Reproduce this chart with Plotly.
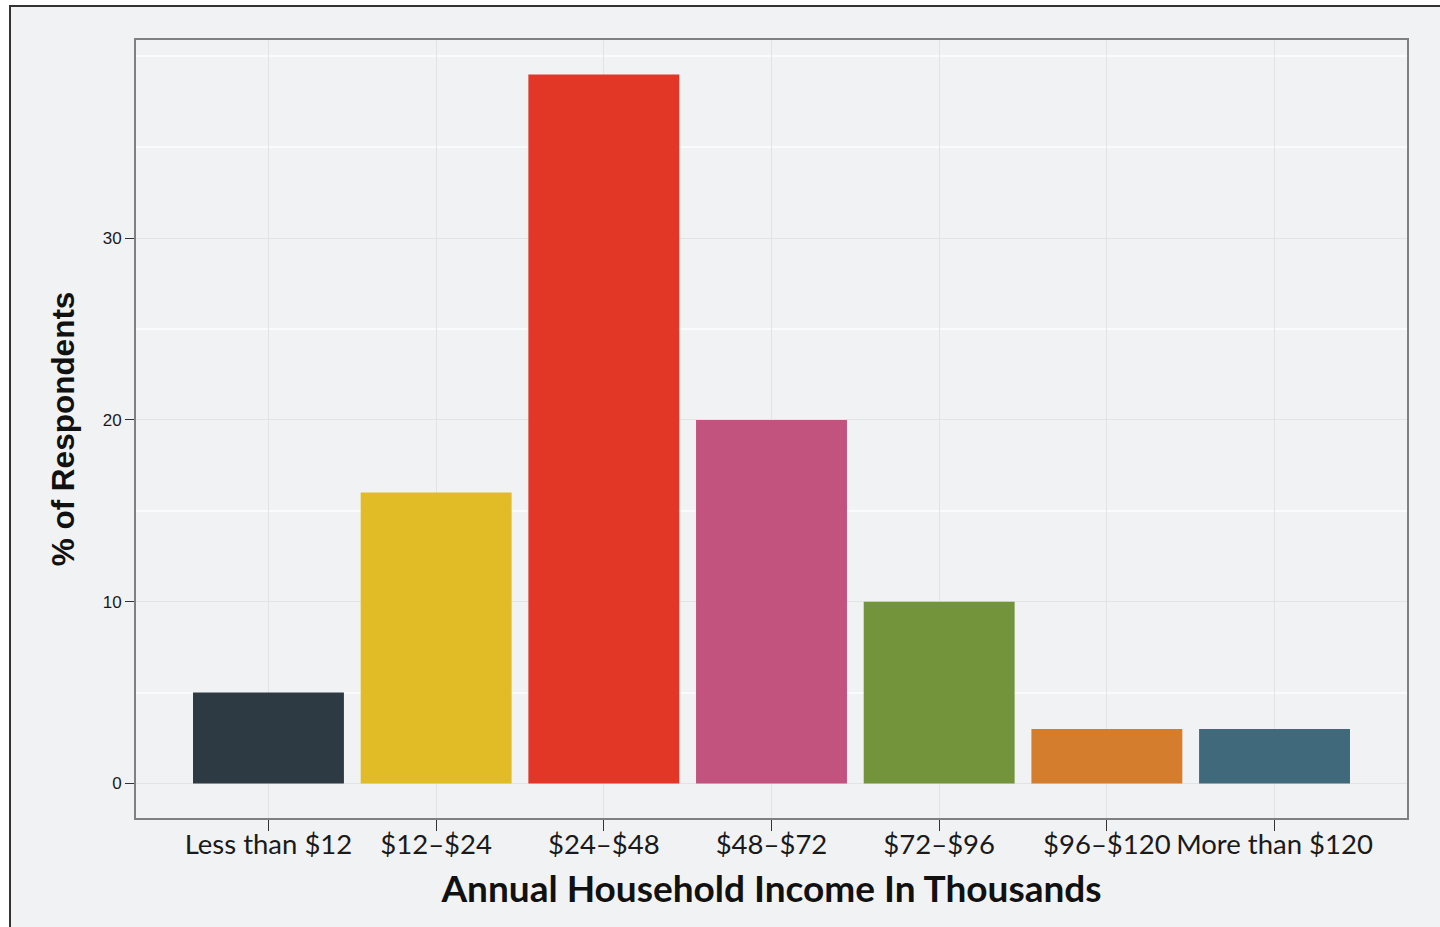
import plotly.graph_objects as go

categories = ["Less than $12", "$12\u2013$24", "$24\u2013$48", "$48\u2013$72",
              "$72\u2013$96", "$96\u2013$120", "More than $120"]
values = [5, 16, 39, 20, 10, 3, 3]
colors = ["#2d3a43", "#e1bc26", "#e23726", "#c2527e", "#73943b", "#d47d2d", "#41697c"]
y_major = [0, 10, 20, 30]
y_minor = [5, 15, 25, 35, 40]

W, H = 1440, 927
# target plot area in page pixels
PL, PR, PT, PB = 136, 1407, 40, 818
L, T, R, B = PL, PT, W - PR, H - PB
pw, ph = PR - PL, PB - PT

fig = go.Figure(go.Bar(x=categories, y=values, marker=dict(color=colors, line=dict(width=0)),
                       width=0.9))

bg = "#f1f2f4"
def px_x(p):
    return (p - PL) / pw
def px_y(p):
    return (PB - p) / ph

fig.add_shape(type="rect", xref="paper", yref="paper",
              x0=px_x(10), x1=px_x(1470), y0=px_y(6), y1=px_y(960),
              fillcolor=bg, line=dict(color="#333333", width=2), layer="below")

fig.update_layout(
    width=W, height=H,
    margin=dict(l=L, r=R, t=T, b=B),
    paper_bgcolor="white",
    plot_bgcolor=bg,
    showlegend=False,
)
fig.update_xaxes(
    range=[-0.79, 6.79],
    showline=True, linecolor="#808080", linewidth=2, mirror=True,
    showgrid=True, gridcolor="#e2e3e5", gridwidth=1,
    ticks="outside", ticklen=11, tickcolor="#333333", tickwidth=1,
    ticklabelstandoff=-10,
    tickfont=dict(family="Lato", size=27.5, color="#1a1a1a"),
    title=dict(text="<b>Annual Household Income In Thousands</b>",
               font=dict(family="Lato", size=37, color="#111111"), standoff=17),
)
fig.update_yaxes(
    range=[-1.9, 40.9],
    tickvals=y_major,
    showline=True, linecolor="#808080", linewidth=2, mirror=True,
    showgrid=True, gridcolor="#e2e3e5", gridwidth=1, zeroline=False,
    ticks="outside", ticklen=9, tickcolor="#333333", tickwidth=1,
    tickfont=dict(family="Liberation Sans", size=17, color="#1a1a1a"),
    minor=dict(tickvals=y_minor, showgrid=True, gridcolor="#fafbfc", gridwidth=2, ticks=""),
    title=dict(text="<b>% of Respondents</b>",
               font=dict(family="Liberation Sans", size=31.5, color="#111111"), standoff=19),
)

fig.write_html("out.html", config={"displayModeBar": False},
               post_script="document.body.style.margin='0';document.body.style.overflow='hidden';")
